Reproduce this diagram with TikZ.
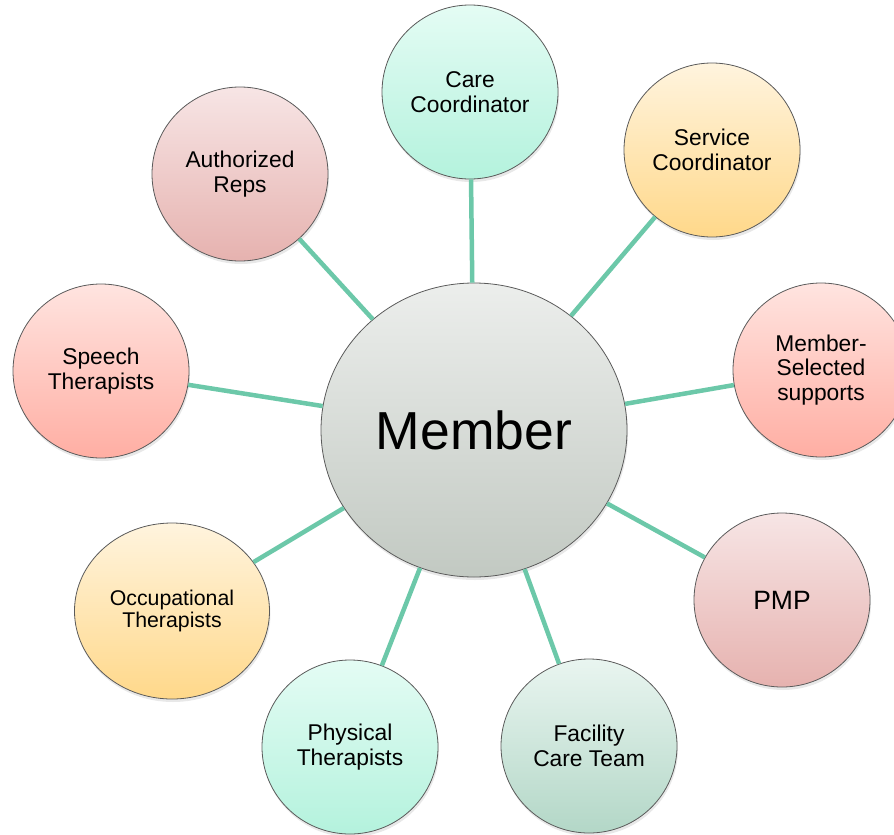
\documentclass[tikz,border=0pt]{standalone}
\usepackage{fontspec}
\setmainfont{Liberation Sans}
\usetikzlibrary{shapes.geometric,shadows}

% bubble fills (top / bottom of the vertical gradient)
\definecolor{aquaT}{HTML}{E4FCF4}
\definecolor{aquaB}{HTML}{B4F2DD}
\definecolor{goldT}{HTML}{FFF4DE}
\definecolor{goldB}{HTML}{FFD88A}
\definecolor{salmonT}{HTML}{FFE4E0}
\definecolor{salmonB}{HTML}{FFAEA3}
\definecolor{roseT}{HTML}{F7E5E5}
\definecolor{roseB}{HTML}{E6B2AF}
\definecolor{sageT}{HTML}{E9F5F0}
\definecolor{sageB}{HTML}{B3D7C7}
\definecolor{greyT}{HTML}{ECEEEC}
\definecolor{greyB}{HTML}{C2C9C2}
\definecolor{rimgray}{HTML}{5A5A5A}
\definecolor{linkteal}{HTML}{6CC8A9}

\begin{document}
\begin{tikzpicture}[x=1pt,y=-1pt,
  bubble/.style={ellipse, draw=rimgray, line width=0.8pt, inner sep=0pt,
    minimum width=176pt, minimum height=174pt, align=center, text=black,
    font=\fontsize{22.8}{24.5}\selectfont,
    drop shadow={opacity=0.18, shadow xshift=1pt, shadow yshift=-3pt}},
  aqua/.style={top color=aquaT, bottom color=aquaB},
  gold/.style={top color=goldT, bottom color=goldB},
  salmon/.style={top color=salmonT, bottom color=salmonB},
  rose/.style={top color=roseT, bottom color=roseB},
  sage/.style={top color=sageT, bottom color=sageB},
  hub/.style={top color=greyT, bottom color=greyB},
  link/.style={draw=linkteal, line width=4.5pt}]
\useasboundingbox (0,0) rectangle (894,835);

% central bubble
\node[bubble, hub, minimum width=306pt, minimum height=294pt,
      font=\fontsize{53.5}{57}\selectfont] (member) at (474,430) {Member};

% surrounding bubbles, clockwise from the top
\node[bubble, aqua]   (care)     at (470,92)  {Care\\Coordinator};
\node[bubble, gold]   (service)  at (712,150) {Service\\Coordinator};
\node[bubble, salmon] (selected) at (821,370) {Member-\\Selected\\supports};
\node[bubble, rose, font=\fontsize{26.5}{28}\selectfont] (pmp) at (782,600) {PMP};
\node[bubble, sage]   (facility) at (589,746) {Facility\\Care Team};
\node[bubble, aqua]   (physical) at (350,747) {Physical\\Therapists};
\node[bubble, gold, minimum width=195pt, minimum height=176pt,
      font=\fontsize{21.3}{22.5}\selectfont] (occup) at (172,611) {Occupational\\Therapists};
\node[bubble, salmon] (speech)   at (101,371) {Speech\\Therapists};
\node[bubble, rose]   (authreps) at (240,174) {Authorized\\Reps};

% spokes
\foreach \n in {care,service,selected,pmp,facility,physical,occup,speech,authreps}
  \draw[link] (member) -- (\n);
\end{tikzpicture}
\end{document}
